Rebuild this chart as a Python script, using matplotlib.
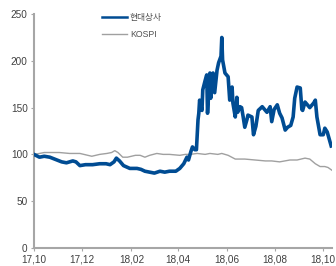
import matplotlib
matplotlib.use("Agg")
import matplotlib.pyplot as plt
import pandas as pd

plt.rcParams['font.family'] = ['Liberation Sans', 'Noto Sans CJK KR', 'DejaVu Sans']

hd_dates = ["2017-10-01","2017-10-08","2017-10-14","2017-10-21","2017-10-30","2017-11-05","2017-11-11",
            "2017-11-19","2017-11-23","2017-11-28","2017-12-05","2017-12-14","2017-12-23","2017-12-31",
            "2018-01-05","2018-01-10","2018-01-13","2018-01-17","2018-01-22","2018-01-30","2018-02-08",
            "2018-02-13","2018-02-18","2018-02-24","2018-03-02","2018-03-09","2018-03-15","2018-03-21",
            "2018-03-29","2018-04-03","2018-04-08","2018-04-12","2018-04-14","2018-04-17","2018-04-19",
            "2018-04-22","2018-04-24","2018-04-26","2018-04-27","2018-04-28","2018-05-01","2018-05-02",
            "2018-05-05","2018-05-07","2018-05-08","2018-05-11","2018-05-12","2018-05-15","2018-05-17",
            "2018-05-20","2018-05-22","2018-05-25","2018-05-26","2018-05-27","2018-05-30","2018-06-03",
            "2018-06-05","2018-06-08","2018-06-09","2018-06-12","2018-06-14","2018-06-15","2018-06-18",
            "2018-06-20","2018-06-22","2018-06-24","2018-06-27","2018-06-28","2018-07-03","2018-07-05",
            "2018-07-08","2018-07-11","2018-07-16","2018-07-19","2018-07-22","2018-07-26","2018-07-28",
            "2018-07-31","2018-08-04","2018-08-07","2018-08-10","2018-08-14","2018-08-17","2018-08-21",
            "2018-08-24","2018-08-26","2018-08-29","2018-09-02","2018-09-04","2018-09-05","2018-09-08",
            "2018-09-12","2018-09-14","2018-09-19","2018-09-21","2018-09-23","2018-09-27","2018-10-01",
            "2018-10-03","2018-10-06","2018-10-08","2018-10-11"]
hd_values = [100, 97, 98, 97, 94, 92, 91,
             93, 92, 88, 89, 89, 90, 90,
             89, 92, 96, 93, 88, 85, 85,
             84, 82, 81, 80, 82, 81, 82,
             82, 85, 90, 97, 94, 103, 108,
             105, 105, 137, 144, 158, 147, 169,
             179, 185, 144, 187, 160, 187, 166,
             190, 198, 205, 225, 201, 187, 183,
             158, 172, 155, 140, 161, 145, 151,
             150, 140, 129, 138, 142, 140, 121,
             130, 147, 151, 148, 145, 151, 135,
             148, 153, 144, 139, 126, 129, 131,
             140, 160, 172, 171, 148, 147, 156,
             152, 150, 155, 158, 140, 121, 121,
             128, 124, 118, 109]

kospi_dates = ["2017-10-01","2017-10-08","2017-10-14","2017-10-23","2017-11-02","2017-11-15","2017-11-28",
               "2017-12-08","2017-12-13","2017-12-23","2018-01-01","2018-01-07","2018-01-11","2018-01-15",
               "2018-01-21","2018-01-27","2018-02-06","2018-02-12","2018-02-18","2018-02-24","2018-03-05",
               "2018-03-13","2018-03-21","2018-04-03","2018-04-10","2018-04-16","2018-04-25","2018-05-05",
               "2018-05-11","2018-05-21","2018-05-26","2018-06-03","2018-06-12","2018-06-24","2018-07-07",
               "2018-07-20","2018-07-28","2018-08-07","2018-08-20","2018-08-29","2018-09-08","2018-09-14",
               "2018-09-21","2018-09-27","2018-10-03","2018-10-07","2018-10-12"]
kospi_values = [100, 101, 102, 102, 102, 101, 101,
                99, 98, 100, 101, 102, 104, 102,
                97, 97, 99, 99, 97, 99, 101,
                100, 100, 99, 100, 100, 101, 100,
                101, 100, 101, 99, 95, 95, 94,
                93, 93, 92, 94, 94, 96, 95,
                90, 87, 87, 86, 83]

xtick_dates = ["2017-10-01","2017-12-01","2018-02-01","2018-04-01","2018-06-01","2018-08-01","2018-10-01"]
xtick_labels = ["17,10","17,12","18,02","18,04","18,06","18,08","18,10"]
yticks = [0, 50, 100, 150, 200, 250]

fig = plt.figure(figsize=(3.36, 2.66), dpi=100)
ax = fig.add_axes([0.101, 0.068, 0.887, 0.879])

ax.plot(pd.to_datetime(hd_dates), hd_values, color='#004C93', lw=2.6, label='현대상사',
        solid_joinstyle='round', zorder=3)
ax.plot(pd.to_datetime(kospi_dates), kospi_values, color='#A0A0A0', lw=1.0, label='KOSPI', zorder=2)

ax.set_ylim(0, 250)
ax.set_yticks(yticks)
ax.set_xlim(pd.Timestamp("2017-10-01"), pd.Timestamp("2018-10-12"))
ax.set_xticks(pd.to_datetime(xtick_dates))
ax.set_xticklabels(xtick_labels)

for s in ['top', 'right']:
    ax.spines[s].set_visible(False)
for s in ['left', 'bottom']:
    ax.spines[s].set_color('#A6A6A6')
    ax.spines[s].set_linewidth(1.5)
ax.tick_params(axis='both', colors='#A6A6A6', labelcolor='#404040', labelsize=7.2,
               length=2.5, width=0.8, direction='out', pad=2)

leg = ax.legend(loc='upper left', bbox_to_anchor=(0.215, 1.02), frameon=False, fontsize=6.3,
                handlelength=2.9, handletextpad=0.35, labelspacing=0.95, borderaxespad=0)
leg.legend_handles[0].set_linewidth(1.8)
for t in leg.get_texts():
    t.set_color('#505050')

fig.savefig('out.png', dpi=100)
